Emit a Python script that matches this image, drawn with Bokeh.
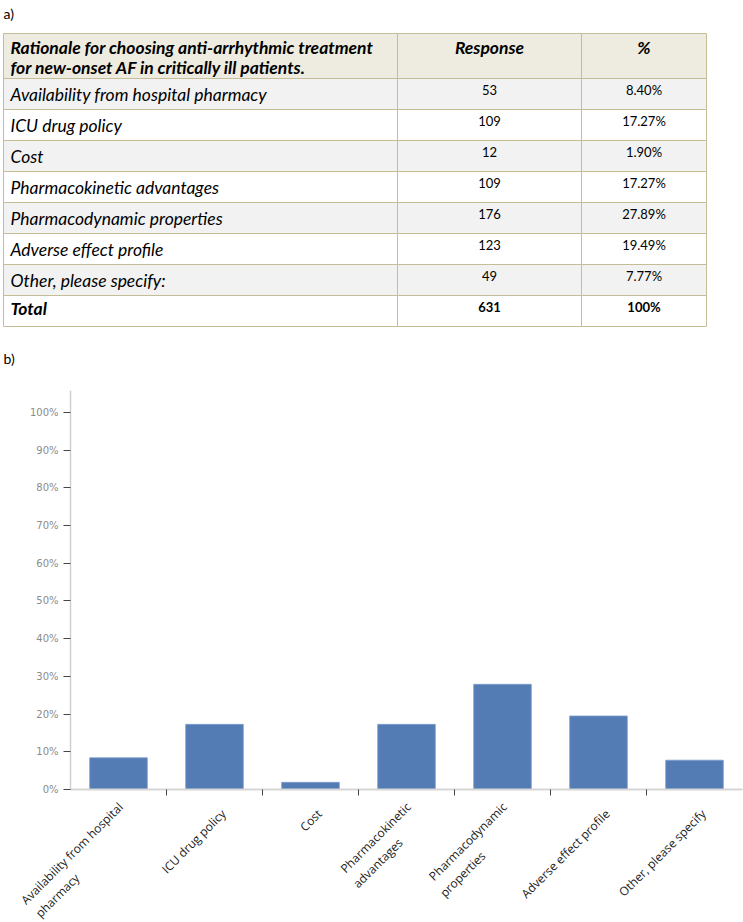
import math
from bokeh.plotting import figure
from bokeh.models import FixedTicker, NumeralTickFormatter, Range1d
from bokeh.core.properties import value
from bokeh.embed import file_html
from bokeh.resources import INLINE

# ---------------- data ----------------
header_lines = ["Rationale for choosing anti-arrhythmic treatment",
                "for new-onset AF in critically ill patients."]
header_response = "Response"
header_pct = "%"
categories = ["Availability from hospital pharmacy", "ICU drug policy", "Cost",
              "Pharmacokinetic advantages", "Pharmacodynamic properties",
              "Adverse effect profile", "Other, please specify:"]
responses = [53, 109, 12, 109, 176, 123, 49]
percent_text = ["8.40%", "17.27%", "1.90%", "17.27%", "27.89%", "19.49%", "7.77%"]
percent_values = [8.40, 17.27, 1.90, 17.27, 27.89, 19.49, 7.77]
total_label = "Total"
total_response = 631
total_pct = "100%"

bar_label_lines = [["Availability from hospital", "pharmacy"], ["ICU drug policy"], ["Cost"],
                   ["Pharmacokinetic", "advantages"], ["Pharmacodynamic", "properties"],
                   ["Adverse effect profile"], ["Other, please specify"]]
y_ticks = [i / 10 for i in range(11)]

# ---------------- styling / layout constants ----------------
W = 743
H1 = 372                      # table panel
FRAME_L, FRAME_R = 70, 1      # bar chart borders
TOP_B, FRAME_H, BOT_B = 18, 399, 7
H2 = TOP_B + FRAME_H + BOT_B  # bar chart panel
H3 = 922 - H1 - H2            # rotated category labels panel
LABEL_DROP = 22               # label anchor distance below the x axis line
col_x = [3, 397, 581, 706]
head_top, head_bot = 33, 78
row_h = 31
border = "#C4BD97"
head_fill = "#EEECE1"
band_fill = "#F2F2F2"
FONT = "Lato"
# non-breaking-space padding so that second lines of rotated labels start flush left
line2_pad = [26, 0, 0, 10, 16, 0, 0]

# ---------------- table ----------------
tbl = figure(width=W, height=H1, x_range=Range1d(0, W), y_range=Range1d(H1, 0),
             output_backend="svg", toolbar_location=None, x_axis_type=None,
             y_axis_type=None, min_border=0, outline_line_color=None)

L, R, T, B, F = [], [], [], [], []
def add_row(top, bot, fill):
    for c in range(3):
        L.append(col_x[c]); R.append(col_x[c + 1]); T.append(top); B.append(bot); F.append(fill)

add_row(head_top, head_bot, head_fill)
n = len(categories)
for i in range(n):
    t = head_bot + row_h * i
    add_row(t, t + row_h, band_fill if i % 2 == 0 else "white")
tot_top = head_bot + row_h * n
add_row(tot_top, tot_top + row_h, "white")
tbl.quad(left=L, right=R, top=T, bottom=B, fill_color=F, line_color=border, line_width=1)

c1 = (col_x[1] + col_x[2]) / 2
c2 = (col_x[2] + col_x[3]) / 2
tx = col_x[0] + 7

tbl.text(x=[tx, tx], y=[47, 67], text=header_lines, text_font=value(FONT),
         text_font_style="bold italic", text_font_size="17.5px", text_baseline="middle",
         text_color="black")
tbl.text(x=[c1, c2], y=[47, 47], text=[header_response, header_pct], text_font=value(FONT),
         text_font_style="bold italic", text_font_size="17.5px", text_baseline="middle",
         text_align="center", text_color="black")

row_tops = [head_bot + row_h * i for i in range(n)]
tbl.text(x=[tx] * n, y=[t + 16 for t in row_tops], text=categories, text_font=value(FONT),
         text_font_style="italic", text_font_size="17.5px", text_baseline="middle",
         text_color="black")
tbl.text(x=[c1] * n, y=[t + 11 for t in row_tops], text=[str(v) for v in responses],
         text_font=value(FONT), text_font_size="13px", text_baseline="middle",
         text_align="center", text_color="black")
tbl.text(x=[c2] * n, y=[t + 11 for t in row_tops], text=percent_text,
         text_font=value(FONT), text_font_size="13px", text_baseline="middle",
         text_align="center", text_color="black")

tbl.text(x=[tx], y=[tot_top + 13], text=[total_label], text_font=value(FONT),
         text_font_style="bold italic", text_font_size="17.5px", text_baseline="middle",
         text_color="black")
tbl.text(x=[c1, c2], y=[tot_top + 11, tot_top + 11], text=[str(total_response), total_pct],
         text_font=value(FONT), text_font_style="bold", text_font_size="13px",
         text_baseline="middle", text_align="center", text_color="black")

tbl.text(x=[3, 3], y=[13, 358], text=["a)", "b)"], text_font=value(FONT),
         text_font_size="14px", text_baseline="middle", text_color="black")

# ---------------- bar chart ----------------
xs = list(range(1, len(percent_values) + 1))
x_lo, x_hi = 0.5, len(xs) + 0.5
bar = figure(width=W, height=H2, x_range=Range1d(x_lo, x_hi),
             y_range=Range1d(0, 1.058), output_backend="svg", toolbar_location=None,
             min_border_left=FRAME_L, min_border_right=FRAME_R, min_border_top=TOP_B,
             min_border_bottom=BOT_B, outline_line_color=None)
bar.vbar(x=xs, top=[v / 100 for v in percent_values], width=0.6,
         fill_color="#537CB5", line_color="#7C9CCB", line_width=0.8)

bar.xgrid.visible = False
bar.ygrid.visible = False

ya = bar.yaxis[0]
ya.ticker = FixedTicker(ticks=y_ticks)
ya.formatter = NumeralTickFormatter(format="0%")
ya.axis_line_color = "#D0D0D0"
ya.axis_line_width = 1.5
ya.major_tick_line_color = "#444444"
ya.major_tick_in = 0
ya.major_tick_out = 7
ya.minor_tick_line_color = None
ya.major_label_text_font = "DejaVu Sans"
ya.major_label_text_font_size = "10px"
ya.major_label_text_color = "#8C8C8C"
ya.major_label_standoff = 5

xa = bar.xaxis[0]
xa.ticker = FixedTicker(ticks=[], minor_ticks=[x + 0.5 for x in xs[:-1]])
xa.axis_line_color = "#D6D6D6"
xa.axis_line_width = 2
xa.major_tick_line_color = None
xa.major_tick_in = 0
xa.major_tick_out = 0
xa.minor_tick_line_color = "#444444"
xa.minor_tick_in = 0
xa.minor_tick_out = 6
xa.major_label_standoff = 0

# ---------------- rotated category labels (same x scale as the bars) ----------------
cat_px = (W - FRAME_L - FRAME_R) / (x_hi - x_lo)
lx0 = x_lo - FRAME_L / cat_px
lab = figure(width=W, height=H3, x_range=Range1d(lx0, lx0 + W / cat_px),
             y_range=Range1d(0, H3), output_backend="svg", toolbar_location=None,
             x_axis_type=None, y_axis_type=None, min_border=0, outline_line_color=None)

labels = []
for lines, pad in zip(bar_label_lines, line2_pad):
    if len(lines) > 1:
        labels.append(lines[0] + "\n" + lines[1] + "\u00a0" * pad)
    else:
        labels.append(lines[0])

lab.text(x=xs, y=[H3 - (LABEL_DROP - BOT_B)] * len(xs), text=labels, angle=math.pi / 4,
         text_align="right", text_baseline="middle", x_offset=9,
         text_font=value("Open Sans"), text_font_size="12px", text_line_height=1.15,
         text_color="#1A1A1A")

open("out.html", "w").write(file_html([tbl, bar, lab], INLINE))
